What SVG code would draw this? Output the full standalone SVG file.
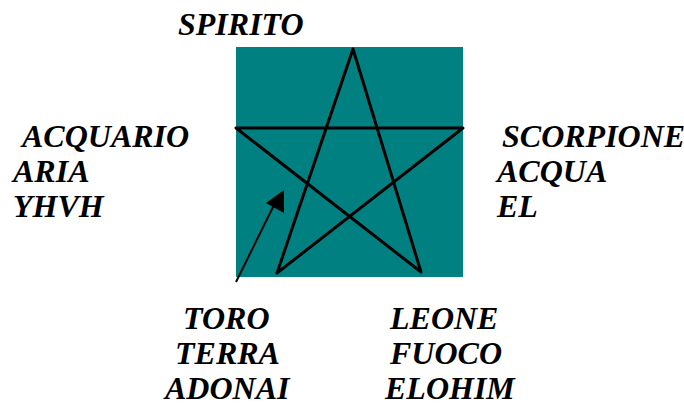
<svg xmlns="http://www.w3.org/2000/svg" width="684" height="405" viewBox="0 0 684 405">
<rect width="684" height="405" fill="#fff"/>
<g id="pentagram">
<rect x="236" y="47" width="227" height="230" fill="#008080"/>
<polyline points="277,273 353,49 421,272 236,128 463,128 277,273" fill="none" stroke="#000" stroke-width="3" stroke-linejoin="round" stroke-linecap="round"/>
</g>
<g id="connectors">
<line x1="236" y1="282" x2="275" y2="203" stroke="#000" stroke-width="2"/>
<polygon points="284,190 266,203 284,213" fill="#000"/>
</g>
<g id="spirito"><text x="178" y="35" font-family="Times New Roman, Liberation Serif, serif" font-size="32" font-style="italic" font-weight="bold">SPIRITO</text></g>
<g id="acquario">
<text x="22" y="147" font-family="Times New Roman, Liberation Serif, serif" font-size="32" font-style="italic" font-weight="bold">ACQUARIO</text>
<text x="13" y="182" font-family="Times New Roman, Liberation Serif, serif" font-size="32" font-style="italic" font-weight="bold">ARIA</text>
<text x="13" y="217" font-family="Times New Roman, Liberation Serif, serif" font-size="32" font-style="italic" font-weight="bold">YHVH</text>
</g>
<g id="scorpione">
<text x="502" y="147" font-family="Times New Roman, Liberation Serif, serif" font-size="32" font-style="italic" font-weight="bold">SCORPIONE</text>
<text x="497" y="182" font-family="Times New Roman, Liberation Serif, serif" font-size="32" font-style="italic" font-weight="bold">ACQUA</text>
<text x="497" y="217" font-family="Times New Roman, Liberation Serif, serif" font-size="32" font-style="italic" font-weight="bold">EL</text>
</g>
<g id="toro">
<text x="183" y="329" font-family="Times New Roman, Liberation Serif, serif" font-size="32" font-style="italic" font-weight="bold">TORO</text>
<text x="175" y="364" font-family="Times New Roman, Liberation Serif, serif" font-size="32" font-style="italic" font-weight="bold">TERRA</text>
<text x="165" y="399" font-family="Times New Roman, Liberation Serif, serif" font-size="32" font-style="italic" font-weight="bold">ADONAI</text>
</g>
<g id="leone">
<text x="390" y="329" font-family="Times New Roman, Liberation Serif, serif" font-size="32" font-style="italic" font-weight="bold">LEONE</text>
<text x="390" y="364" font-family="Times New Roman, Liberation Serif, serif" font-size="32" font-style="italic" font-weight="bold">FUOCO</text>
<text x="385" y="399" font-family="Times New Roman, Liberation Serif, serif" font-size="32" font-style="italic" font-weight="bold">ELOHIM</text>
</g>
</svg>
